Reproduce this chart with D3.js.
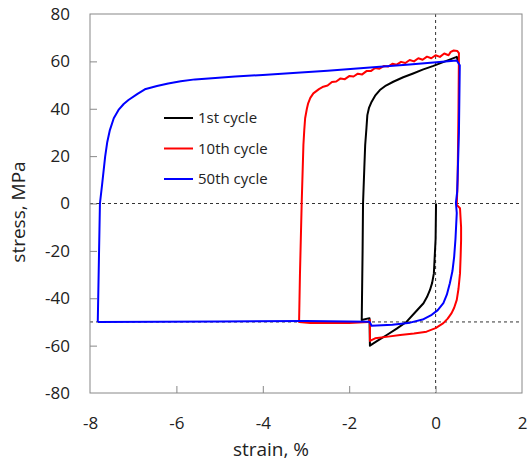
<!DOCTYPE html>
<html>
<head>
<meta charset="utf-8">
<script src="https://cdn.jsdelivr.net/npm/d3@7"></script>
<style>
html,body{margin:0;padding:0;background:#fff;}
svg{display:block;font-family:"Open Sans",sans-serif;}
</style>
</head>
<body>
<svg id="chart" width="528" height="465"></svg>
<script>
// ---- data (strain %, stress MPa) ----
const xTicks = [-8, -6, -4, -2, 0, 2];
const yTicks = [-80, -60, -40, -20, 0, 20, 40, 60, 80];
const seriesNames = ["1st cycle", "10th cycle", "50th cycle"];
const seriesColors = ["#000000", "#ff0000", "#0000ff"];

const cycle1 = [
  [0.01,0],[0.0,-15],[-0.04,-29.5],[-0.08,-33.5],[-0.13,-36.5],[-0.2,-39.5],[-0.28,-42.1],
  [-0.45,-45.5],[-0.67,-49.9],[-0.9,-52.8],[-1.13,-55.5],[-1.35,-58],[-1.52,-60],
  [-1.53,-48.4],[-1.71,-49.2],[-1.69,-20],[-1.68,0],[-1.65,15],[-1.63,24.7],[-1.6,32],
  [-1.58,37.3],[-1.54,40.5],[-1.48,43],[-1.4,45.5],[-1.29,47.9],[-1.15,49.8],[-0.98,51.4],
  [-0.75,53.3],[-0.52,54.9],[-0.3,56.5],[-0.05,58.1],[0.25,60.2],[0.49,61.9],[0.52,60]
];

const cycle10 = [
  [-3.1,0],[-3.06,24.7],[-3.04,31],[-3.02,36],[-2.98,40],[-2.95,42.3],[-2.9,44.6],[-2.83,46.5],
  [-2.7,48.3],[-2.6,49.3],[-2.5,49.8],[-2.4,51.3],[-2.3,51.5],[-2.2,52.8],[-2.1,52.5],
  [-2.0,53.8],[-1.9,53.6],[-1.8,54.8],[-1.7,54.5],[-1.6,55.9],[-1.5,55.9],[-1.4,57.2],
  [-1.3,56.9],[-1.2,58.0],[-1.1,57.8],[-1.0,59.0],[-0.9,58.6],[-0.8,59.8],[-0.7,59.3],
  [-0.6,60.6],[-0.5,60.0],[-0.4,61.3],[-0.3,60.7],[-0.2,62.0],[-0.1,61.3],[0.0,62.6],
  [0.1,61.9],[0.2,63.3],[0.3,62.6],[0.35,64.0],[0.42,64.6],[0.5,64.4],[0.54,63.5],
  [0.53,40],[0.51,10],[0.49,-0.6],[0.565,-2],[0.59,-10],[0.59,-15.4],[0.58,-22],
  [0.565,-29.5],[0.53,-36],[0.49,-40.7],[0.43,-44],[0.37,-46.3],[0.28,-48.6],[0.18,-50.5],
  [0.0,-52.6],[-0.21,-54.1],[-0.5,-54.9],[-0.82,-55.5],[-1.1,-56.2],[-1.40,-56.9],
  [-1.52,-58],[-1.52,-49.2],[-1.56,-50.0],[-2.0,-50.5],[-2.5,-50.3],[-2.9,-50.4],
  [-3.16,-50.0],[-3.14,-30],[-3.1,0]
];

const cycle50 = [
  [-7.82,-50],[-7.8,-30],[-7.77,0],[-7.72,8],[-7.65,19.7],[-7.6,26],[-7.54,31],[-7.45,36],
  [-7.34,39.5],[-7.22,42],[-7.11,43.7],[-6.9,46.3],[-6.73,48.2],[-6.45,49.6],[-6.19,50.7],
  [-5.9,51.6],[-5.57,52.4],[-5.1,53.0],[-4.64,53.6],[-4.0,54.3],[-3.3,55.1],[-2.5,56.0],
  [-1.29,57.7],[-0.6,58.7],[0.02,59.6],[0.49,60.4],
  [0.56,58.4],[0.54,30],[0.5,5],[0.47,0.3],[0.49,-4],[0.46,-15],[0.43,-22.4],[0.39,-28.5],
  [0.33,-33.7],[0.26,-38.5],[0.18,-42.1],[0.05,-45],[-0.09,-47],[-0.3,-49],[-0.59,-50.3],
  [-1.0,-51.2],[-1.48,-51.6],[-1.53,-49.9],[-3,-49.6],[-5,-49.8],[-7.82,-50]
];

const allSeries = [cycle1, cycle10, cycle50];
const refX = [0];
const refY = [0, -50];

// ---- layout ----
const svg = d3.select("#chart");
const x = d3.scaleLinear().domain([-8, 2]).range([90, 522]);
const y = d3.scaleLinear().domain([-80, 80]).range([393, 14]);
const fmt = d => String(d);

// reference dashed lines
const gRef = svg.append("g").attr("stroke", "#333").attr("stroke-width", 1).attr("stroke-dasharray", "3,3");
refY.forEach(v => gRef.append("line").attr("x1", x(-8)).attr("x2", x(2)).attr("y1", y(v)).attr("y2", y(v)));
refX.forEach(v => gRef.append("line").attr("x1", x(v)).attr("x2", x(v)).attr("y1", y(80)).attr("y2", y(-80)));

// axes
const xAxis = d3.axisBottom(x).tickValues(xTicks).tickFormat(fmt).tickSizeInner(-7).tickSizeOuter(0).tickPadding(24);
const yAxis = d3.axisLeft(y).tickValues(yTicks).tickFormat(fmt).tickSizeInner(-7).tickSizeOuter(0).tickPadding(20);
const gx = svg.append("g").attr("transform", `translate(0,${y(-80)})`).call(xAxis);
const gy = svg.append("g").attr("transform", `translate(${x(-8)},0)`).call(yAxis);
[gx, gy].forEach(g => {
  g.select(".domain").remove();
  g.selectAll(".tick line").attr("stroke", "#888");
  g.selectAll(".tick text").attr("font-size", 17).attr("fill", "#222").attr("font-family", "Open Sans, sans-serif");
});
gx.selectAll(".tick line").filter(d => d === -8 || d === 2).remove();
gy.selectAll(".tick line").filter(d => d === 80 || d === -80).remove();

// frame
svg.append("rect").attr("x", x(-8)).attr("y", y(80)).attr("width", x(2) - x(-8)).attr("height", y(-80) - y(80))
  .attr("fill", "none").attr("stroke", "#888").attr("stroke-width", 1);

// series
const line = d3.line().x(d => x(d[0])).y(d => y(d[1]));
allSeries.forEach((s, i) => {
  svg.append("path").datum(s).attr("d", line).attr("fill", "none")
    .attr("stroke", seriesColors[i]).attr("stroke-width", 2).attr("stroke-linejoin", "round");
});

// legend
const leg = svg.append("g");
seriesNames.forEach((n, i) => {
  const yy = 118 + i * 30.5;
  leg.append("line").attr("x1", 164).attr("x2", 193).attr("y1", yy).attr("y2", yy)
    .attr("stroke", seriesColors[i]).attr("stroke-width", 2);
  leg.append("text").attr("x", 198).attr("y", yy).attr("dy", "0.35em")
    .attr("font-size", 15).attr("fill", "#222").text(n);
});

// axis titles
svg.append("text").attr("x", 271).attr("y", 456).attr("text-anchor", "middle")
  .attr("font-size", 19).attr("fill", "#222").text("strain, %");
svg.append("text").attr("transform", `translate(25,212) rotate(-90)`).attr("text-anchor", "middle")
  .attr("font-size", 19).attr("fill", "#222").text("stress, MPa");
</script>
</body>
</html>
